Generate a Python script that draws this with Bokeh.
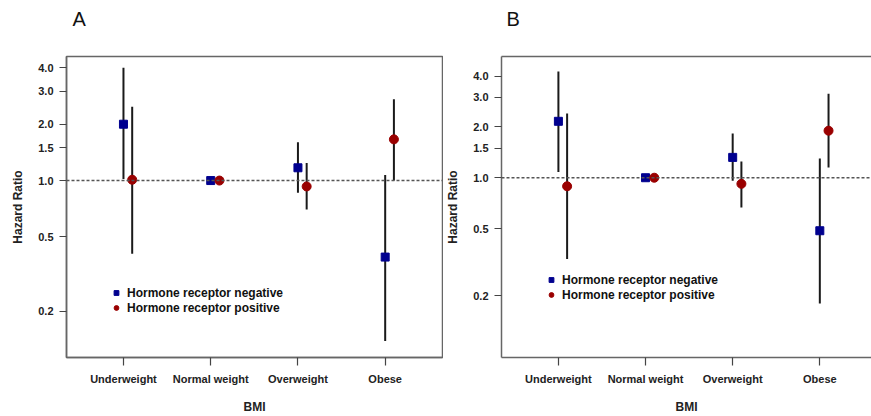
from bokeh.plotting import figure
from bokeh.models import (FixedTicker, PrintfTickFormatter, Span, Legend,
                          LegendItem, LinearAxis, Range1d)
from bokeh.layouts import row
from bokeh.embed import file_html
from bokeh.resources import INLINE

# ---------------- data ----------------
categories = ["Underweight", "Normal weight", "Overweight", "Obese"]
y_ticks = [0.2, 0.5, 1.0, 1.5, 2.0, 3.0, 4.0]

# Panel A
a_neg_hr = [2.0, 1.0, 1.17, 0.39]
a_neg_lo = [1.02, 1.0, 0.86, 0.139]
a_neg_hi = [4.0, 1.0, 1.60, 1.07]
a_pos_hr = [1.01, 1.0, 0.93, 1.66]
a_pos_lo = [0.406, 1.0, 0.70, 1.0]
a_pos_hi = [2.48, 1.0, 1.24, 2.72]

# Panel B
b_neg_hr = [2.16, 1.0, 1.32, 0.485]
b_neg_lo = [1.08, 1.0, 0.96, 0.18]
b_neg_hi = [4.26, 1.0, 1.83, 1.30]
b_pos_hr = [0.89, 1.0, 0.92, 1.90]
b_pos_lo = [0.33, 1.0, 0.665, 1.15]
b_pos_hi = [2.40, 1.0, 1.25, 3.15]

series_labels = ["Hormone receptor negative", "Hormone receptor positive"]

# ---------------- style ----------------
NEG_COLOR = "#00008F"
POS_COLOR = "#9A0000"
FRAME = "#666666"
FONT = "Liberation Sans"


def make_panel(letter, neg, pos, width, y_start, y_end, x_end, legend_xy,
               open_right, border_left, border_right, letter_dx):
    p = figure(width=width, height=416,
               x_range=Range1d(0.347, x_end), y_range=Range1d(y_start, y_end),
               y_axis_type="log", output_backend="svg", toolbar_location=None,
               min_border_left=border_left, min_border_right=border_right,
               min_border_top=56, min_border_bottom=59,
               background_fill_color="white", border_fill_color="white")
    p.grid.visible = False

    # panel letter (title sits outside an empty spacer axis on top)
    p.title.text = letter
    p.title.text_font = FONT
    p.title.text_font_size = "20px"
    p.title.text_font_style = "normal"
    p.title.text_color = "#111111"
    p.title.align = "left"
    p.title.offset = letter_dx
    p.title.standoff = 0

    top = LinearAxis(ticker=FixedTicker(ticks=[]),
                     axis_line_color=FRAME if open_right else None,
                     axis_line_width=1.5, major_tick_line_color=None,
                     minor_tick_line_color=None,
                     major_label_text_font_size="0px",
                     major_tick_out=0, major_tick_in=0,
                     major_label_standoff=0,
                     axis_label=" ", axis_label_text_alpha=0,
                     axis_label_text_font_size="12px",
                     axis_label_standoff=10)
    p.add_layout(top, "above")

    xaxis = p.below[0]
    yaxis = p.left[0]

    # y axis
    yaxis.ticker = FixedTicker(ticks=y_ticks)
    yaxis.formatter = PrintfTickFormatter(format="%.1f")
    yaxis.minor_tick_line_color = None
    yaxis.major_tick_out = 7
    yaxis.major_tick_in = 0
    yaxis.major_label_standoff = 6
    yaxis.axis_label = "Hazard Ratio"
    yaxis.axis_label_standoff = 10

    # x axis
    xs = list(range(1, len(categories) + 1))
    xaxis.ticker = FixedTicker(ticks=xs)
    xaxis.major_label_overrides = {x: c for x, c in zip(xs, categories)}
    xaxis.minor_tick_line_color = None
    xaxis.major_tick_out = 8
    xaxis.major_tick_in = 0
    xaxis.major_label_standoff = 7
    xaxis.axis_label = "BMI"
    xaxis.axis_label_standoff = 12

    for ax in (xaxis, yaxis):
        ax.axis_line_color = FRAME
        ax.axis_line_width = 1.5
        ax.major_tick_line_color = "#444444"
        ax.major_tick_line_width = 1.2
        ax.major_label_text_font = FONT
        ax.major_label_text_font_size = "11px"
        ax.major_label_text_font_style = "bold"
        ax.major_label_text_color = "#222222"
        ax.axis_label_text_font = FONT
        ax.axis_label_text_font_size = "12px"
        ax.axis_label_text_font_style = "bold"
        ax.axis_label_text_color = "#222222"

    if open_right:
        p.outline_line_color = None
    else:
        p.outline_line_color = FRAME
        p.outline_line_width = 1.5

    # reference line at HR = 1
    p.add_layout(Span(location=1.0, dimension="width", line_color="#555555",
                      line_dash="3 2", line_width=1.5))

    neg_hr, neg_lo, neg_hi = neg
    pos_hr, pos_lo, pos_hi = pos
    x_neg = [x for x in xs]
    x_pos = [x + 0.1 for x in xs]

    p.segment(x0=x_neg, y0=neg_lo, x1=x_neg, y1=neg_hi,
              line_color="#1a1a1a", line_width=2)
    p.segment(x0=x_pos, y0=pos_lo, x1=x_pos, y1=pos_hi,
              line_color="#1a1a1a", line_width=2)
    r_neg = p.scatter(x=x_neg, y=neg_hr, marker="square", size=8,
                      fill_color=NEG_COLOR, line_color=NEG_COLOR)
    r_pos = p.scatter(x=x_pos, y=pos_hr, marker="circle", size=9,
                      fill_color=POS_COLOR, line_color=POS_COLOR)

    legend = Legend(items=[LegendItem(label=series_labels[0], renderers=[r_neg]),
                           LegendItem(label=series_labels[1], renderers=[r_pos])],
                    location=legend_xy, orientation="vertical",
                    background_fill_alpha=0, border_line_color=None,
                    padding=0, margin=0, spacing=0,
                    glyph_width=12, glyph_height=15, label_standoff=5,
                    label_text_font=FONT, label_text_font_size="12px",
                    label_text_font_style="bold", label_text_color="#111111",
                    label_height=15)
    p.add_layout(legend, "center")
    return p


pa = make_panel("A", (a_neg_hr, a_neg_lo, a_neg_hi),
                (a_pos_hr, a_pos_lo, a_pos_hi),
                width=443, y_start=0.1134, y_end=4.60, x_end=4.657,
                legend_xy=(44, 42), open_right=False,
                border_left=66, border_right=1, letter_dx=6)
pb = make_panel("B", (b_neg_hr, b_neg_lo, b_neg_hi),
                (b_pos_hr, b_pos_lo, b_pos_hi),
                width=428, y_start=0.086, y_end=5.23, x_end=4.593,
                legend_xy=(44, 55), open_right=True,
                border_left=58, border_right=0, letter_dx=5)

layout = row(pa, pb)
open("out.html", "w").write(file_html(layout, INLINE))
